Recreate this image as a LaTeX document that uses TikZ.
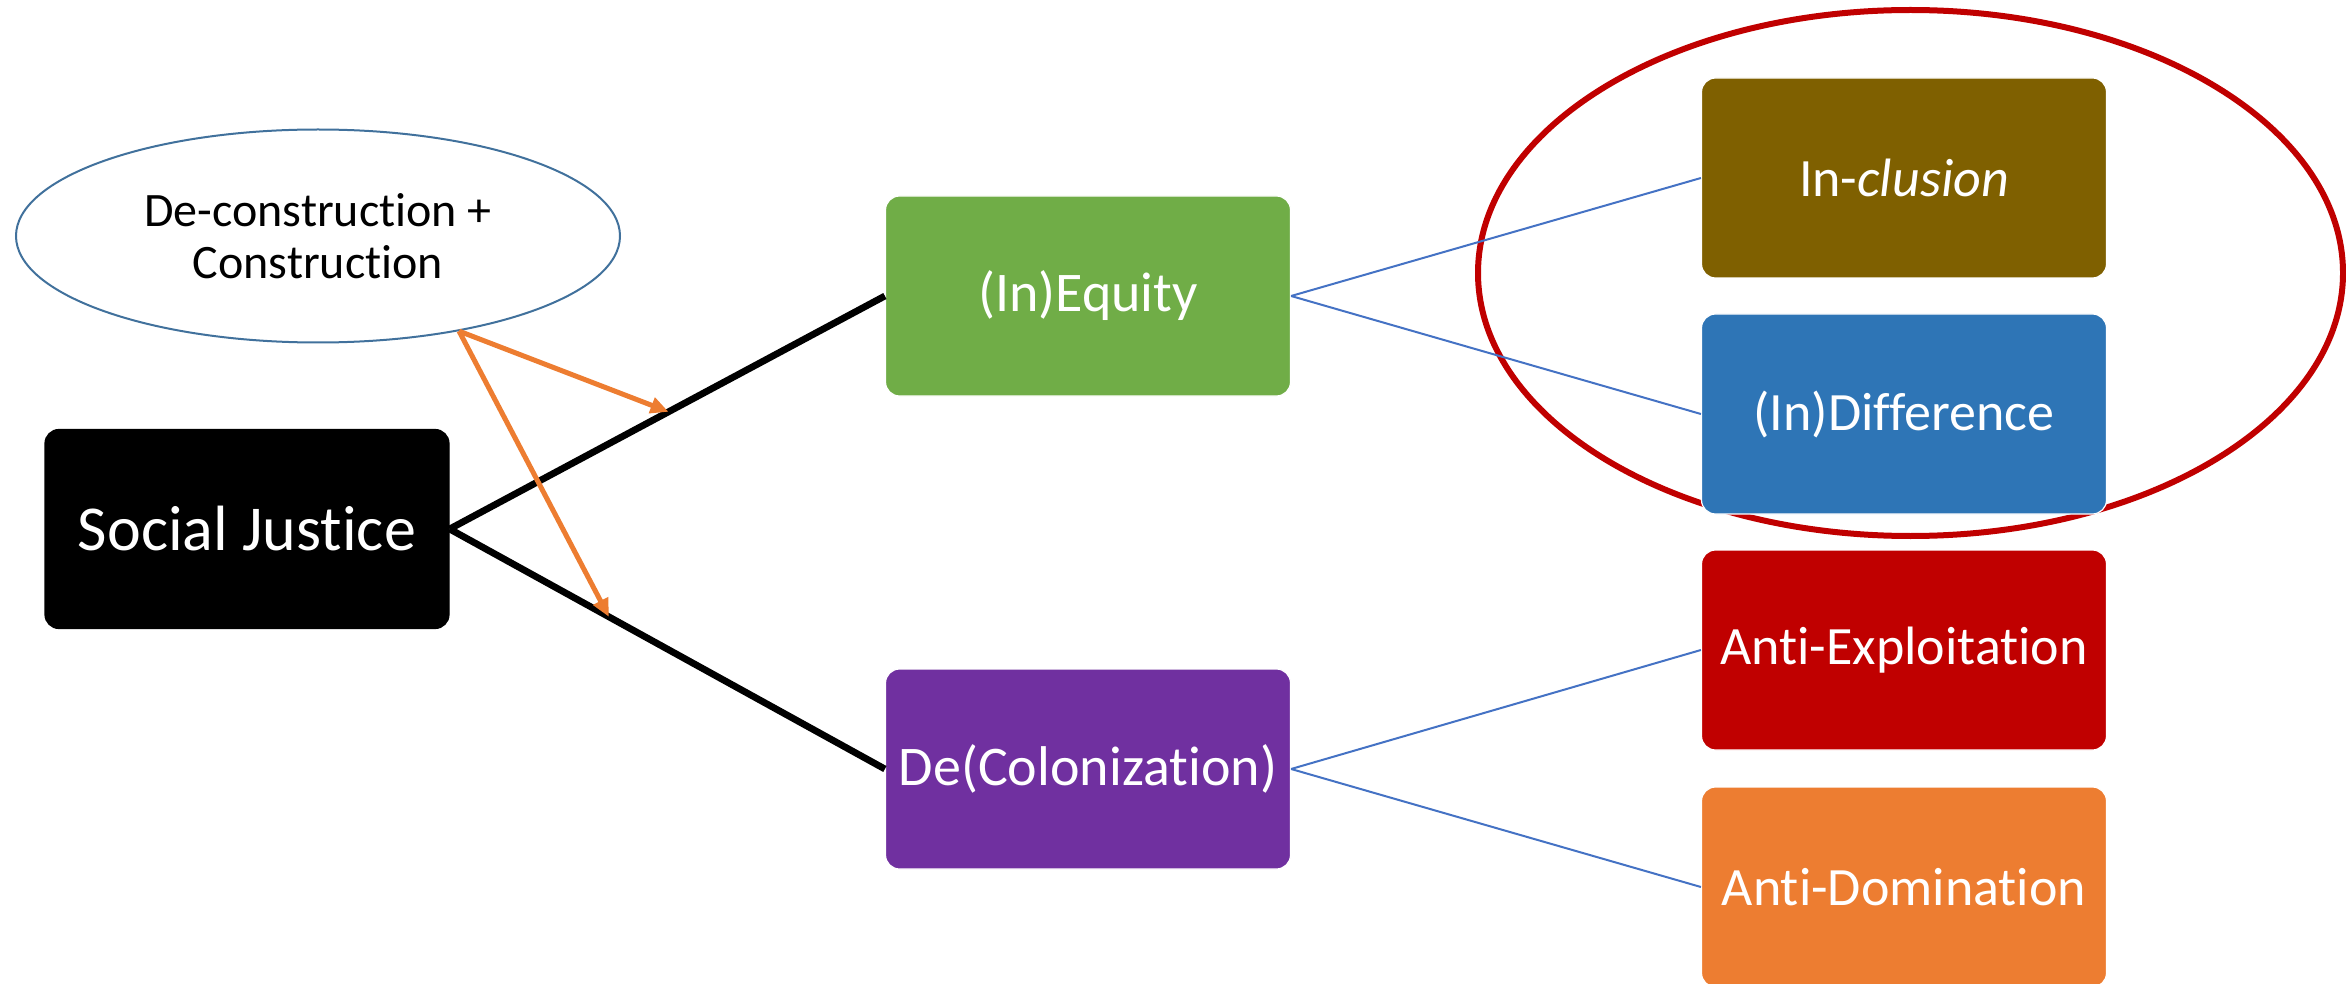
\documentclass[tikz,border=0pt]{standalone}
\usepackage{fontspec}
\setmainfont{Carlito}[Ligatures={NoCommon}]
\usetikzlibrary{shapes.geometric,arrows.meta,calc}
\definecolor{cgreen}{HTML}{70AD47}
\definecolor{cpurple}{HTML}{7030A0}
\definecolor{colive}{HTML}{7F6000}
\definecolor{cblue}{HTML}{2E75B6}
\definecolor{cred}{HTML}{C00000}
\definecolor{corange}{HTML}{ED7D31}
\definecolor{cline}{HTML}{4472C4}
\definecolor{cellipse}{HTML}{41719C}
\tikzset{
  box/.style={rectangle, rounded corners=7pt, minimum width=202.5pt, minimum height=100pt,
    inner sep=0pt, text=white, draw=white, line width=0.6pt, align=center},
  midtext/.style={font=\fontsize{28}{32}\selectfont},
  righttext/.style={font=\fontsize{27}{32}\selectfont},
  blackline/.style={line width=3.4pt, black},
  blueline/.style={line width=1pt, cline},
  orangearrow/.style={line width=2.5pt, corange, -{Triangle[length=9pt,width=8pt]}},
}
\begin{document}
\begin{tikzpicture}[x=0.5pt,y=-0.5pt]
\useasboundingbox (0,0) rectangle (2346,984);
% red ellipse (behind boxes)
\node[ellipse, draw=cred, line width=3pt, minimum width=432.5pt, minimum height=263pt, inner sep=0pt] (circ) at (1910.5,273) {};
% nodes
\node[ellipse, draw=cellipse, line width=1pt, minimum width=302pt, minimum height=106.5pt, inner sep=0pt, align=center,
  font=\fontsize{24}{26}\selectfont] (ell) at (318,236) {De-construction +\\Construction};
\node[box, fill=black, draw=black, minimum width=202pt, minimum height=99.5pt,
  font=\fontsize{32}{34}\selectfont] (sj) at (247,529) {Social Justice};
\node[box, fill=cgreen, midtext] (eq) at (1088,296) {(In)Equity};
\node[box, fill=cpurple, midtext] (dc) at (1088,769) {De(Colonization)};
\node[box, fill=colive, righttext] (inc) at (1904,178) {In-\textit{clusion}};
\node[box, fill=cblue, righttext] (dif) at (1904,414) {(In)Difference};
\node[box, fill=cred, righttext] (exp) at (1904,650) {Anti-Exploitation};
\node[box, fill=corange, righttext] (dom) at (1904,887) {Anti-Domination};
% connectors
\draw[blackline] (sj.east) -- (eq.west);
\draw[blackline] (sj.east) -- (dc.west);
\draw[blueline] (eq.east) -- (inc.west);
\draw[blueline] (eq.east) -- (dif.west);
\draw[blueline] (dc.east) -- (exp.west);
\draw[blueline] (dc.east) -- (dom.west);
\coordinate (a1) at ($(sj.east)!0.503!(eq.west)$);
\coordinate (a2) at ($(sj.east)!0.366!(dc.west)$);
\draw[orangearrow] (ell.-34) -- (a1);
\draw[orangearrow] (ell.-34) -- (a2);
\end{tikzpicture}
\end{document}
